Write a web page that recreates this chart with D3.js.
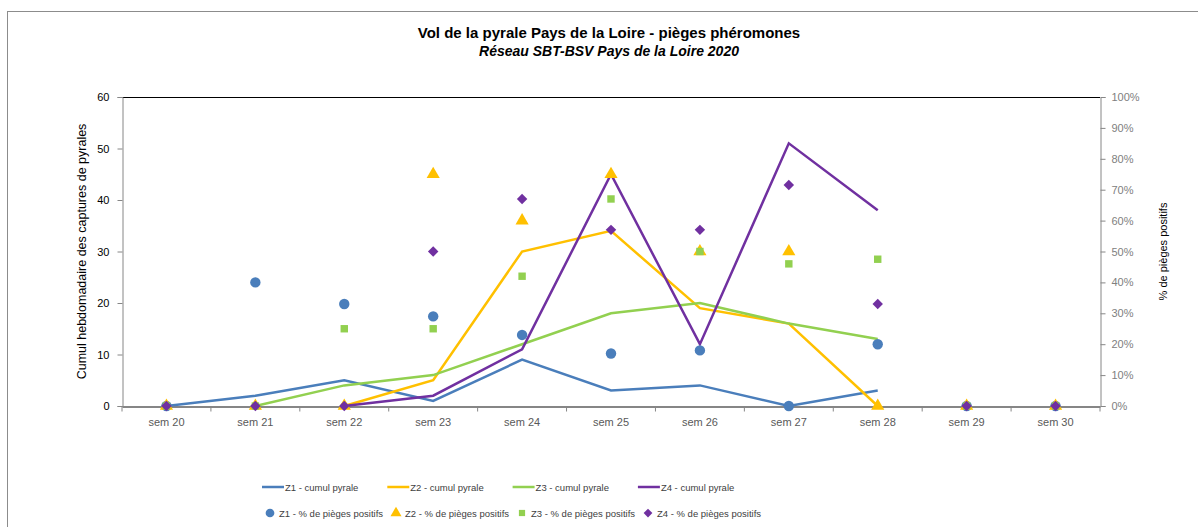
<!DOCTYPE html>
<html>
<head>
<meta charset="utf-8">
<script src="https://cdn.jsdelivr.net/npm/d3@7"></script>
<style>
  body { margin: 0; background: #fff; }
  text { font-family: "Liberation Sans", Arial, sans-serif; }
</style>
</head>
<body>
<div id="graphique"></div>
<script>
// semaines
const semaines = ["sem 20", "sem 21", "sem 22", "sem 23", "sem 24", "sem 25",
                  "sem 26", "sem 27", "sem 28", "sem 29", "sem 30"];

// cumul hebdomadaire des captures (axe gauche), null = pas de point
const z1Cumul = [0, 2, 5, 1, 9, 3, 4, 0, 3, null, null];
const z2Cumul = [null, null, 0, 5, 30, 34, 19, 16, 0, null, null];
const z3Cumul = [null, 0, 4, 6, 12, 18, 20, 16, 13, null, null];
const z4Cumul = [null, null, 0, 2, 11, 45, 12, 51, 38, null, null];

// % de pièges positifs (axe droit)
const z1Pct = [0, 40, 33, 29, 23, 17, 18, 0, 20, 0, 0];
const z2Pct = [0, 0, 0, 75, 60, 75, 50, 50, 0, 0, 0];
const z3Pct = [0, 0, 25, 25, 42, 67, 50, 46, 47.5, 0, 0];
const z4Pct = [0, 0, 0, 50, 67, 57, 57, 71.5, 33, 0, 0];

const ticksGauche = [0, 10, 20, 30, 40, 50, 60];
const ticksDroite = [0, 10, 20, 30, 40, 50, 60, 70, 80, 90, 100];

const couleurs = { z1: "#4a7ebb", z2: "#ffc000", z3: "#92d050", z4: "#7030a0" };

// losange "Excel" : carré tourné de 45°
const losange = {
    draw(ctx, size) {
        const r = Math.sqrt(size) / 1.6;
        ctx.moveTo(0, -r); ctx.lineTo(r, 0); ctx.lineTo(0, r); ctx.lineTo(-r, 0); ctx.closePath();
    }
};

const series = [
    { nom: "Z1", cumul: z1Cumul, pct: z1Pct, couleur: couleurs.z1, symbole: d3.symbolCircle, taille: 85 },
    { nom: "Z2", cumul: z2Cumul, pct: z2Pct, couleur: couleurs.z2, symbole: d3.symbolTriangle, taille: 75 },
    { nom: "Z3", cumul: z3Cumul, pct: z3Pct, couleur: couleurs.z3, symbole: d3.symbolSquare, taille: 55 },
    { nom: "Z4", cumul: z4Cumul, pct: z4Pct, couleur: couleurs.z4, symbole: losange, taille: 70 }
];

const W = 1198, H = 527;
const plot = { left: 122, right: 1100, top: 97, bottom: 406 };

const svg = d3.select("#graphique").append("svg")
    .attr("width", W).attr("height", H);

// cadre extérieur
svg.append("rect")
    .attr("x", 7.5).attr("y", 11.5)
    .attr("width", W).attr("height", H)
    .attr("fill", "none").attr("stroke", "#8c8c8c");

const x = d3.scaleBand().domain(semaines).range([plot.left, plot.right]).padding(0);
const cx = d => x(d) + x.bandwidth() / 2;
const yG = d3.scaleLinear().domain([0, 60]).range([plot.bottom, plot.top]);
const yD = d3.scaleLinear().domain([0, 100]).range([plot.bottom, plot.top]);

// bord supérieur de la zone de tracé
svg.append("line")
    .attr("x1", plot.left).attr("x2", plot.right)
    .attr("y1", plot.top + 0.5).attr("y2", plot.top + 0.5)
    .attr("stroke", "#000");

// Axe gauche
const axeG = svg.append("g")
    .attr("transform", `translate(${plot.left + 0.5},0)`)
    .style("color", "#868686")
    .call(d3.axisLeft(yG).tickValues(ticksGauche).tickSizeOuter(0).tickSize(5).tickPadding(8));
axeG.selectAll("text").attr("font-size", 11).style("fill", "#000");

// Axe droit
const axeD = svg.append("g")
    .attr("transform", `translate(${plot.right + 0.5},0)`)
    .style("color", "#868686")
    .call(d3.axisRight(yD).tickValues(ticksDroite).tickFormat(d => d + "%")
        .tickSizeOuter(0).tickSize(5).tickPadding(6));
axeD.selectAll("text").attr("font-size", 11).style("fill", "#808080");

// Axe X
const axeX = svg.append("g")
    .attr("transform", `translate(0,${plot.bottom + 0.5})`)
    .style("color", "#868686")
    .call(d3.axisBottom(x).tickSize(0).tickPadding(12));
axeX.select(".domain").attr("stroke-width", 2);
axeX.selectAll("text").attr("font-size", 11).style("fill", "#595959");
// graduations entre les catégories
axeX.selectAll(".sep")
    .data(semaines.concat([null]))
    .enter().append("line")
    .attr("class", "sep")
    .attr("x1", (d, i) => plot.left + i * x.bandwidth())
    .attr("x2", (d, i) => plot.left + i * x.bandwidth())
    .attr("y1", 0).attr("y2", 5)
    .attr("stroke", "#868686");

// Courbes cumul
const ligne = d3.line()
    .defined(d => d.v !== null)
    .x(d => cx(d.s))
    .y(d => yG(d.v));

series.forEach(s => {
    svg.append("path")
        .datum(semaines.map((sem, i) => ({ s: sem, v: s.cumul[i] })))
        .attr("d", ligne)
        .attr("fill", "none")
        .attr("stroke", s.couleur)
        .attr("stroke-width", 2.5)
        .attr("stroke-linejoin", "miter");
});

// Marqueurs % pièges positifs
series.forEach(s => {
    svg.selectAll(null)
        .data(semaines.map((sem, i) => ({ s: sem, v: s.pct[i] })))
        .enter().append("path")
        .attr("d", d3.symbol().type(s.symbole).size(s.taille))
        .attr("transform", d => `translate(${cx(d.s)},${yD(d.v)})`)
        .attr("fill", s.couleur);
});

// Titres
svg.append("text")
    .attr("x", 609).attr("y", 38)
    .attr("text-anchor", "middle")
    .attr("font-size", 15).attr("font-weight", "bold")
    .text("Vol de la pyrale Pays de la Loire - pièges phéromones");
svg.append("text")
    .attr("x", 609).attr("y", 56)
    .attr("text-anchor", "middle")
    .attr("font-size", 14).attr("font-weight", "bold").attr("font-style", "italic")
    .text("Réseau SBT-BSV Pays de la Loire 2020");

// Titres des axes
svg.append("text")
    .attr("transform", `translate(86,${(plot.top + plot.bottom) / 2}) rotate(-90)`)
    .attr("text-anchor", "middle")
    .attr("font-size", 12.5)
    .text("Cumul hebdomadaire des captures de pyrales");
svg.append("text")
    .attr("transform", `translate(1167,${(plot.top + plot.bottom) / 2}) rotate(-90)`)
    .attr("text-anchor", "middle")
    .attr("font-size", 11)
    .text("% de pièges positifs");

// Légende
const leg1 = svg.append("g");
series.forEach((s, i) => {
    const x0 = 262 + i * 125.3;
    leg1.append("line")
        .attr("x1", x0).attr("x2", x0 + 22)
        .attr("y1", 487).attr("y2", 487)
        .attr("stroke", s.couleur).attr("stroke-width", 2.5);
    leg1.append("text")
        .attr("x", x0 + 23).attr("y", 491)
        .attr("font-size", 9.5).attr("fill", "#404040")
        .text(s.nom + " - cumul pyrale");
});
const leg2 = svg.append("g");
series.forEach((s, i) => {
    const x0 = 270 + i * 126;
    leg2.append("path")
        .attr("d", d3.symbol().type(s.symbole).size(s.taille * 0.7))
        .attr("transform", `translate(${x0},513)`)
        .attr("fill", s.couleur);
    leg2.append("text")
        .attr("x", x0 + 9).attr("y", 517)
        .attr("font-size", 9.5).attr("fill", "#404040")
        .text(s.nom + " - % de pièges positifs");
});
</script>
</body>
</html>
